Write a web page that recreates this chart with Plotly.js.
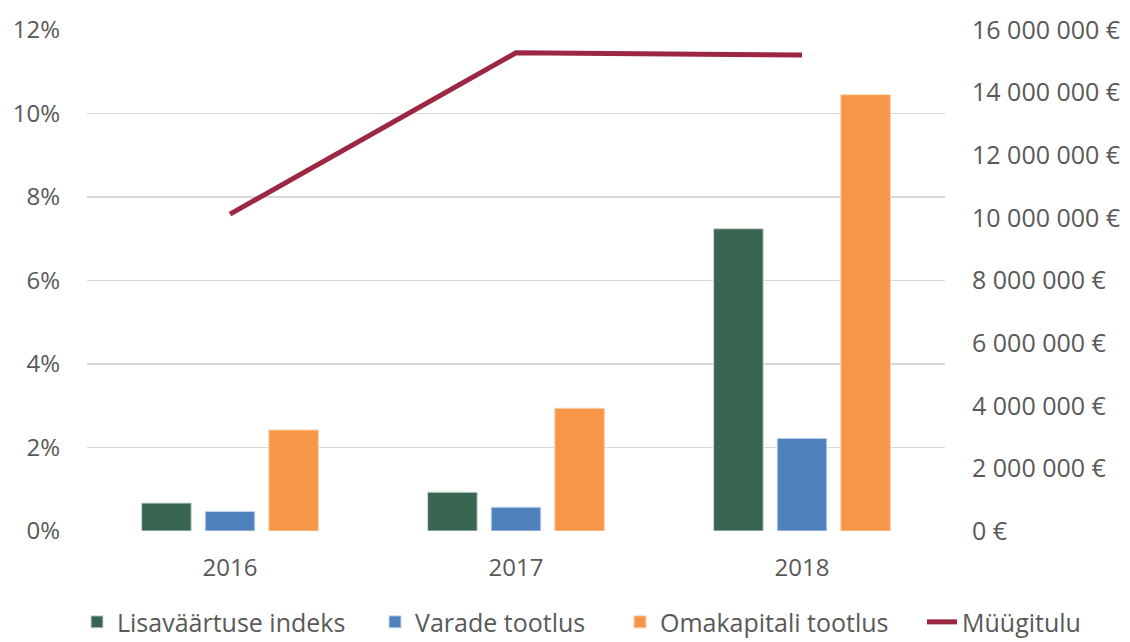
<!DOCTYPE html>
<html>
<head>
<meta charset="utf-8">
<script src="https://cdn.plot.ly/plotly-3.0.1.min.js"></script>
<style>html,body{margin:0;padding:0;background:#fff;}#chart{width:1130px;height:642px;}</style>
</head>
<body>
<div id="chart"></div>
<script>
const years = ['2016', '2017', '2018'];
const lisavaartuseIndeks = [0.0067, 0.0093, 0.0724];
const varadeTootlus = [0.0047, 0.0057, 0.0222];
const omakapitaliTootlus = [0.0242, 0.0294, 0.1045];
const myygitulu = [10120000, 15270000, 15200000];
const seriesNames = ['Lisaväärtuse indeks', 'Varade tootlus', 'Omakapitali tootlus', 'Müügitulu'];

const fontFamily = '"Open Sans", "Liberation Sans", sans-serif';
const textColor = '#595959';

const traces = [
  {type: 'bar', name: seriesNames[0], x: years, y: lisavaartuseIndeks, legend: 'legend', marker: {color: '#386650', line: {color: '#cfd9d3', width: 1}}},
  {type: 'bar', name: seriesNames[1], x: years, y: varadeTootlus, legend: 'legend2', marker: {color: '#4f81bd', line: {color: '#c9d8ec', width: 1}}},
  {type: 'bar', name: seriesNames[2], x: years, y: omakapitaliTootlus, legend: 'legend3', marker: {color: '#f79646', line: {color: '#fbd3b1', width: 1}}},
  {type: 'scatter', mode: 'lines', name: seriesNames[3], x: years, y: myygitulu, yaxis: 'y2', legend: 'legend4', line: {color: '#9c2743', width: 5}}
];

const legendCommon = {orientation: 'h', xref: 'container', yref: 'container', xanchor: 'left', y: 0.031, yanchor: 'middle', font: {size: 25, color: textColor}, traceorder: 'normal', itemwidth: 30, bgcolor: 'rgba(0,0,0,0)'};

const layout = {
  width: 1130, height: 642,
  margin: {l: 87, r: 185, t: 30, b: 111},
  paper_bgcolor: '#ffffff', plot_bgcolor: '#ffffff',
  separators: '. ',
  font: {family: fontFamily, size: 24, color: textColor},
  barmode: 'group',
  bargap: 0.333,
  bargroupgap: 0.22,
  showlegend: true,
  legend: Object.assign({}, legendCommon, {x: 77 / 1130}),
  legend2: Object.assign({}, legendCommon, {x: 375 / 1130}),
  legend3: Object.assign({}, legendCommon, {x: 620 / 1130}),
  legend4: Object.assign({}, legendCommon, {x: 922 / 1130}),
  xaxis: {type: 'category', showgrid: false, showline: false, zeroline: false, ticks: '', ticklabelstandoff: 20, tickfont: {size: 24, color: textColor}},
  yaxis: {range: [0, 0.12], dtick: 0.02, tickformat: '.0%', showgrid: true, gridcolor: '#d9d9d9', gridwidth: 1.5, zeroline: false, showline: false, ticks: '', ticklabelstandoff: 26, tickfont: {size: 24, color: textColor}},
  yaxis2: {overlaying: 'y', side: 'right', range: [0, 16000000], dtick: 2000000, tickformat: ',.0f', ticksuffix: ' €', showgrid: false, zeroline: false, showline: false, ticks: '', ticklabelstandoff: 26, tickfont: {size: 25, color: textColor}}
};

Plotly.newPlot('chart', traces, layout, {displayModeBar: false, staticPlot: true});
</script>
</body>
</html>
